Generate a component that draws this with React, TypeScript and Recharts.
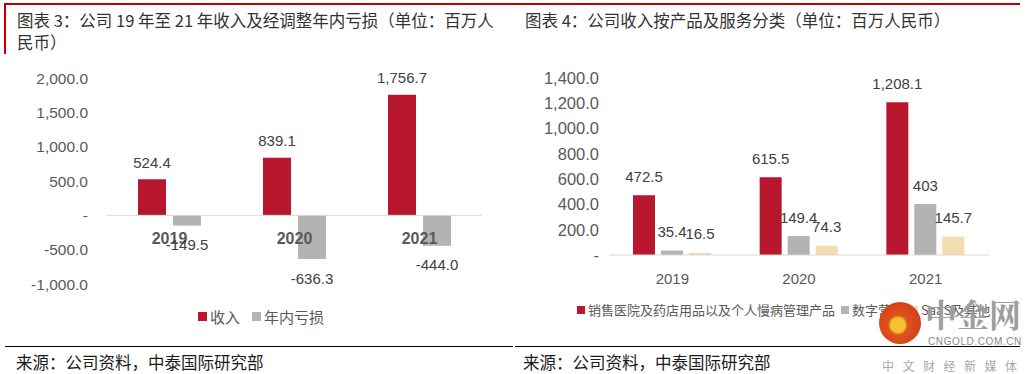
import React from 'react';
import { BarChart, Bar, XAxis, YAxis, ReferenceLine, LabelList } from 'recharts';

// chart 3: revenue vs adjusted loss
const years = ['2019', '2020', '2021'];
const revenue = [524.4, 839.1, 1756.7];
const adjLoss = [-149.5, -636.3, -444.0];
const leftTicks = [-1000, -500, 0, 500, 1000, 1500, 2000];

// chart 4: revenue by segment
const productSales = [472.5, 615.5, 1208.1];
const digitalMarketing = [35.4, 149.4, 403];
const saasOther = [16.5, 74.3, 145.7];
const rightTicks = [0, 200, 400, 600, 800, 1000, 1200, 1400];

const RED = '#B8172D';
const GRAY = '#B3B3B3';
const BEIGE = '#F2DDB2';
const FONT = '"Liberation Sans", "Noto Sans CJK SC", sans-serif';
const CJK = '"Noto Sans CJK SC", sans-serif';

const leftData = years.map((year, i) => ({ year, revenue: revenue[i], loss: adjLoss[i] }));
const rightData = years.map((year, i) => ({
  year,
  product: productSales[i],
  digital: digitalMarketing[i],
  saas: saasOther[i],
}));

const axisFmt = (v: number) =>
  v === 0 ? '-' : v.toLocaleString('en-US', { minimumFractionDigits: 1, maximumFractionDigits: 1 });
const fixed1 = (v: number) => v.toLocaleString('en-US', { minimumFractionDigits: 1, maximumFractionDigits: 1 });
const upTo1 = (v: number) => v.toLocaleString('en-US', { maximumFractionDigits: 1 });

const makeLabel = (fmt: (v: number) => string, gap: number) => (props: any) => {
  const vb = props.viewBox || {};
  const x = props.x ?? vb.x;
  const y = props.y ?? vb.y;
  const width = props.width ?? vb.width;
  const height = props.height ?? vb.height;
  const value = Number(props.value);
  const top = Math.min(y, y + height);
  const bottom = Math.max(y, y + height);
  const cy = value < 0 ? bottom + gap : top - gap;
  return (
    <text
      x={x + width / 2}
      y={cy}
      textAnchor="middle"
      dominantBaseline="central"
      fill="#404040"
      fontSize={15}
      fontFamily={FONT}
    >
      {fmt(value)}
    </text>
  );
};

const LeftYearTick = ({ x, y, payload }: any) => (
  <text x={x} y={y - 40} textAnchor="middle" fill="#595959" fontSize={16} fontWeight="bold" fontFamily={FONT}>
    {payload.value}
  </text>
);

const Legend = ({ items, left, top, fontSize, square, spacing }: any) => (
  <div
    style={{
      position: 'absolute',
      left,
      top,
      display: 'flex',
      alignItems: 'center',
      fontFamily: CJK,
      fontSize,
      color: '#595959',
      whiteSpace: 'nowrap',
      lineHeight: 1,
    }}
  >
    {items.map((it: any, i: number) => (
      <span key={i} style={{ display: 'flex', alignItems: 'center', marginRight: spacing }}>
        <span style={{ width: square, height: square, background: it.color, marginRight: 3 }} />
        {it.name}
      </span>
    ))}
  </div>
);

export default function App() {
  return (
    <div
      style={{
        position: 'absolute',
        left: 0,
        top: 0,
        width: 1034,
        height: 374,
        background: '#fff',
        overflow: 'hidden',
      }}
    >
      {/* frame lines */}
      <div style={{ position: 'absolute', left: 4, top: 3, width: 1016, height: 2, background: '#C00000' }} />
      <div style={{ position: 'absolute', left: 4, top: 3, width: 2, height: 51, background: '#C00000' }} />
      <div style={{ position: 'absolute', left: 5, top: 346, width: 508, height: 1, background: '#000' }} />
      <div style={{ position: 'absolute', left: 515, top: 346, width: 505, height: 1, background: '#000' }} />

      {/* titles */}
      <div
        style={{
          position: 'absolute',
          left: 17,
          top: 9,
          fontFamily: CJK,
          fontSize: 16.5,
          lineHeight: '22px',
          color: '#333',
          whiteSpace: 'nowrap',
        }}
      >
        图表 3：公司 19 年至 21 年收入及经调整年内亏损（单位：百万人
        <br />
        民币）
      </div>
      <div
        style={{
          position: 'absolute',
          left: 525,
          top: 9,
          fontFamily: CJK,
          fontSize: 16.5,
          lineHeight: '22px',
          color: '#333',
          whiteSpace: 'nowrap',
        }}
      >
        图表 4：公司收入按产品及服务分类（单位：百万人民币）
      </div>

      {/* left chart */}
      <div style={{ position: 'absolute', left: 0, top: 60 }}>
        <BarChart
          width={515}
          height={240}
          data={leftData}
          margin={{ top: 18, right: 33, bottom: 0, left: 0 }}
          barSize={28}
          barGap={7}
        >
          <YAxis
            domain={[-1000, 2000]}
            ticks={leftTicks}
            width={107}
            axisLine={false}
            tickLine={false}
            tickSize={0}
            tickMargin={19}
            tickFormatter={axisFmt}
            tick={{ fill: '#595959', fontSize: 15.5, fontFamily: FONT }}
          />
          <XAxis
            dataKey="year"
            height={16}
            axisLine={false}
            tickLine={false}
            tickSize={0}
            tickMargin={0}
            tick={<LeftYearTick />}
          />
          <ReferenceLine y={0} stroke="#D9D9D9" strokeWidth={1} />
          <Bar dataKey="revenue" name="收入" fill={RED} isAnimationActive={false}>
            <LabelList dataKey="revenue" content={makeLabel(fixed1, 17)} />
          </Bar>
          <Bar dataKey="loss" name="年内亏损" fill={GRAY} isAnimationActive={false}>
            <LabelList dataKey="loss" content={makeLabel(fixed1, 19)} />
          </Bar>
        </BarChart>
      </div>
      <Legend
        left={198}
        top={309}
        fontSize={15}
        square={9}
        spacing={12}
        items={[
          { name: '收入', color: RED },
          { name: '年内亏损', color: GRAY },
        ]}
      />

      {/* right chart */}
      <div style={{ position: 'absolute', left: 515, top: 60 }}>
        <BarChart
          width={519}
          height={240}
          data={rightData}
          margin={{ top: 18, right: 45, bottom: 0, left: 0 }}
          barSize={22}
          barGap={6}
        >
          <YAxis
            domain={[0, 1400]}
            ticks={rightTicks}
            width={94}
            axisLine={false}
            tickLine={false}
            tickSize={0}
            tickMargin={10}
            tickFormatter={axisFmt}
            tick={{ fill: '#595959', fontSize: 16.5, fontFamily: FONT }}
          />
          <XAxis
            dataKey="year"
            height={45}
            axisLine={{ stroke: '#D9D9D9' }}
            tickLine={false}
            tickSize={0}
            tickMargin={18}
            tick={{ fill: '#595959', fontSize: 15, fontFamily: FONT }}
          />
          <Bar dataKey="product" fill={RED} isAnimationActive={false}>
            <LabelList dataKey="product" content={makeLabel(upTo1, 19)} />
          </Bar>
          <Bar dataKey="digital" fill={GRAY} isAnimationActive={false}>
            <LabelList dataKey="digital" content={makeLabel(upTo1, 19)} />
          </Bar>
          <Bar dataKey="saas" fill={BEIGE} isAnimationActive={false}>
            <LabelList dataKey="saas" content={makeLabel(upTo1, 19)} />
          </Bar>
        </BarChart>
      </div>
      <Legend
        left={577}
        top={303}
        fontSize={13}
        square={8}
        spacing={6}
        items={[
          { name: '销售医院及药店用品以及个人慢病管理产品', color: RED },
          { name: '数字营销', color: GRAY },
          { name: 'SaaS及其他', color: BEIGE },
        ]}
      />

      {/* sources */}
      <div style={{ position: 'absolute', left: 16, top: 351, fontFamily: CJK, fontSize: 16.5, lineHeight: '22px', color: '#1a1a1a' }}>
        来源：公司资料，中泰国际研究部
      </div>
      <div style={{ position: 'absolute', left: 523, top: 351, fontFamily: CJK, fontSize: 16.5, lineHeight: '22px', color: '#1a1a1a' }}>
        来源：公司资料，中泰国际研究部
      </div>

      {/* watermark */}
      <div
        style={{
          position: 'absolute',
          left: 879,
          top: 302,
          width: 42,
          height: 42,
          borderRadius: '50%',
          background: 'radial-gradient(circle at 45% 55%, #F6C232 0 22%, #E0531C 30%, #C8321A 100%)',
        }}
      />
      <div style={{ position: 'absolute', left: 925, top: 295, fontFamily: '"Noto Serif CJK SC", "Noto Sans CJK SC", serif', fontSize: 32, fontWeight: 'bold', color: '#9E9E9E', lineHeight: '36px' }}>
        中金网
      </div>
      <div style={{ position: 'absolute', left: 928, top: 336, fontFamily: FONT, fontSize: 10, color: '#8A8A8A', letterSpacing: 0.6 }}>
        CNGOLD.COM.CN
      </div>
      <div style={{ position: 'absolute', left: 882, top: 357, fontFamily: CJK, fontSize: 12, color: '#A8A8A8', letterSpacing: 8.5, whiteSpace: 'nowrap' }}>
        中文财经新媒体
      </div>
    </div>
  );
}
